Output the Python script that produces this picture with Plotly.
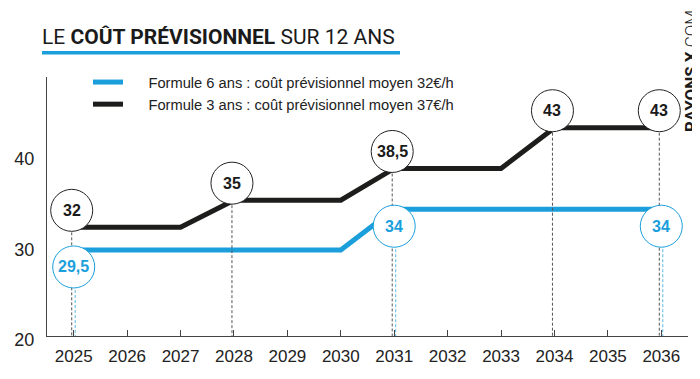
import plotly.graph_objects as go

# ---- data ----
years_3 = [2025, 2027, 2028, 2030, 2031, 2033, 2034, 2036]
cost_3 = [32, 32, 35, 35, 38.5, 38.5, 43, 43]
years_6 = [2025, 2030, 2031, 2036]
cost_6 = [29.5, 29.5, 34, 34]

label_years_3 = [2025, 2028, 2031, 2034, 2036]
label_vals_3 = [32, 35, 38.5, 43, 43]
label_text_3 = ["32", "35", "38,5", "43", "43"]
label_years_6 = [2025, 2031, 2036]
label_vals_6 = [29.5, 34, 34]
label_text_6 = ["29,5", "34", "34"]

x_ticks = list(range(2025, 2037))
y_ticks = [20, 30, 40]

name_6 = "Formule 6 ans : coût prévisionnel moyen 32€/h"
name_3 = "Formule 3 ans : coût prévisionnel moyen 37€/h"
title_text = "LE <b>COÛT PRÉVISIONNEL</b> SUR 12 ANS"

BLUE = "#1b9fdc"
BLACK = "#1d1d1b"
PAD = "\u00a0" * 5
FONT = "Liberation Sans, Arial"

# page body adds an 8px margin; figure is sized so it fits the 700x379 window
W, H = 692, 371

fig = go.Figure()
fig.add_trace(go.Scatter(x=years_6, y=cost_6, mode="lines", name=PAD + name_6,
                         line=dict(color=BLUE, width=5), hoverinfo="skip"))
fig.add_trace(go.Scatter(x=years_3, y=cost_3, mode="lines", name=PAD + name_3,
                         line=dict(color=BLACK, width=5), hoverinfo="skip"))

shapes = []
R = 21
OFF = 17
# dashed guide lines
for xv, yv in zip(label_years_3, label_vals_3):
    shapes.append(dict(type="line", xref="x", yref="y", xsizemode="pixel", xanchor=xv,
                       x0=-2, x1=-2, y0=yv, y1=20, layer="above",
                       line=dict(color="#555555", width=1, dash="3px,2px")))
for xv, yv in zip(label_years_6, label_vals_6):
    shapes.append(dict(type="line", xref="x", yref="y", xsizemode="pixel", xanchor=xv,
                       x0=1.5, x1=1.5, y0=yv, y1=20, layer="above",
                       line=dict(color="#5ab8e6", width=1, dash="3px,2px")))
# circles
for xv, yv in zip(label_years_3, label_vals_3):
    shapes.append(dict(type="circle", xref="x", yref="y", xsizemode="pixel", ysizemode="pixel",
                       xanchor=xv, yanchor=yv, x0=-2 - R, x1=-2 + R, y0=OFF - R, y1=OFF + R,
                       layer="above", fillcolor="white", line=dict(color="#222222", width=1)))
for xv, yv in zip(label_years_6, label_vals_6):
    shapes.append(dict(type="circle", xref="x", yref="y", xsizemode="pixel", ysizemode="pixel",
                       xanchor=xv, yanchor=yv, x0=-R, x1=R, y0=-OFF - R, y1=-OFF + R,
                       layer="above", fillcolor="white", line=dict(color=BLUE, width=1)))
# title underline
shapes.append(dict(type="line", xref="paper", yref="paper", x0=-0.0078, x1=0.5507,
                   y0=1.0938, y1=1.0938, line=dict(color=BLUE, width=3.5)))

annotations = []
for xv, yv, t in zip(label_years_3, label_vals_3, label_text_3):
    annotations.append(dict(x=xv, y=yv, xref="x", yref="y", text="<b>" + t + "</b>",
                            showarrow=False, xshift=-2, yshift=OFF,
                            font=dict(family=FONT, size=16, color="#1a1a1a")))
for xv, yv, t in zip(label_years_6, label_vals_6, label_text_6):
    annotations.append(dict(x=xv, y=yv, xref="x", yref="y", text="<b>" + t + "</b>",
                            showarrow=False, xshift=0, yshift=-OFF,
                            font=dict(family=FONT, size=16, color=BLUE)))
annotations.append(dict(x=1.0047, y=1.023, xref="paper", yref="paper", textangle=-90,
                        text="<b>RAYONS X</b><span style='font-weight:300'>.COM</span>",
                        showarrow=False, xanchor="center", yanchor="middle",
                        font=dict(family="Roboto", size=17, color="#1a1a1a")))

fig.update_layout(
    width=W, height=H,
    margin=dict(l=39, r=12, t=69, b=43, autoexpand=False),
    paper_bgcolor="white", plot_bgcolor="white",
    title=dict(text=title_text, x=34 / W, xanchor="left", xref="container",
               y=1 - 29 / H, yanchor="middle", yref="container",
               font=dict(family="Roboto", size=21, color="#1a1a1a")),
    xaxis=dict(range=[2024.5, 2036.5], tickvals=x_ticks, ticks="inside", ticklen=6,
               tickcolor="#444444", showline=True, linecolor="#444444", linewidth=1,
               showgrid=False, zeroline=False, ticklabelstandoff=5, tickangle=0,
               tickfont=dict(family=FONT, size=17, color="#222222")),
    yaxis=dict(range=[20, 48.6], tickvals=y_ticks, ticks="", showline=True,
               linecolor="#444444", linewidth=1, showgrid=False, zeroline=False,
               ticklabelshift=4, ticklabelstandoff=8,
               tickfont=dict(family=FONT, size=18, color="#222222")),
    legend=dict(x=(88 - 47) / 641, y=(336 - 66) / 259,
                xanchor="left", yanchor="top", bgcolor="rgba(0,0,0,0)", borderwidth=0,
                font=dict(family=FONT, size=14.7, color="#222222")),
    shapes=shapes, annotations=annotations, showlegend=True,
)

fig.write_html("out.html")
